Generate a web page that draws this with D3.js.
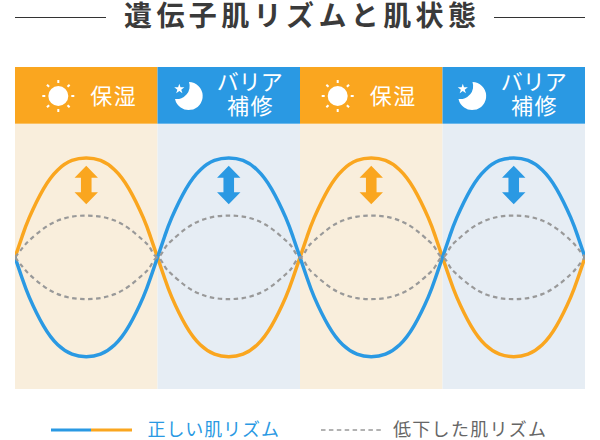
<!DOCTYPE html>
<html>
  <head>
    <meta charset="utf-8">
    <title>遺伝子肌リズムと肌状態</title>
    <script src="https://cdn.jsdelivr.net/npm/d3@7"></script>
    <style>
      html, body { margin: 0; padding: 0; background: #fff; }
      svg { display: block; }
      text { font-family: "Noto Sans CJK JP", "Noto Sans", sans-serif; }
    </style>
  </head>
  <body>
    <script>
      var w = 600;
      var h = 440;

      var titleText = "遺伝子肌リズムと肌状態";
      var panelKinds = ["day", "night", "day", "night"];
      var panelLines = [["保湿"], ["バリア", "補修"], ["保湿"], ["バリア", "補修"]];
      var legendLabels = ["正しい肌リズム", "低下した肌リズム"];

      // position inside one half period
      var halfX = [0, .05, .1, .2, .3, .4, .5, .6, .7, .8, .9, .95, 1];

      var orangeValues = [
        0, 21, 40, 69, 88, 97.5, 100, 97.5, 88, 69, 40, 21, 0,
        -21, -40, -69, -88, -97.5, -100, -97.5, -88, -69, -40, -21, 0,
        21, 40, 69, 88, 97.5, 100, 97.5, 88, 69, 40, 21, 0,
        -21, -40, -69, -88, -97.5, -100, -97.5, -88, -69, -40, -21, 0
      ];
      var blueValues = [
        0, -21, -40, -69, -88, -97.5, -100, -97.5, -88, -69, -40, -21, 0,
        21, 40, 69, 88, 97.5, 100, 97.5, 88, 69, 40, 21, 0,
        -21, -40, -69, -88, -97.5, -100, -97.5, -88, -69, -40, -21, 0,
        21, 40, 69, 88, 97.5, 100, 97.5, 88, 69, 40, 21, 0
      ];
      var lowUpperValues = [
        0, 9, 17, 29, 37, 41, 42, 41, 37, 29, 17, 9, 0,
        9, 17, 29, 37, 41, 42, 41, 37, 29, 17, 9, 0,
        9, 17, 29, 37, 41, 42, 41, 37, 29, 17, 9, 0,
        9, 17, 29, 37, 41, 42, 41, 37, 29, 17, 9, 0
      ];
      var lowLowerValues = [
        0, -9, -17, -29, -37, -41, -42, -41, -37, -29, -17, -9, 0,
        -9, -17, -29, -37, -41, -42, -41, -37, -29, -17, -9, 0,
        -9, -17, -29, -37, -41, -42, -41, -37, -29, -17, -9, 0,
        -9, -17, -29, -37, -41, -42, -41, -37, -29, -17, -9, 0
      ];

      // x values for the whole run: first half has the 0, the rest share it
      var rhythmX = halfX.slice();
      d3.range(1, panelKinds.length).forEach(function(p) {
        halfX.slice(1).forEach(function(t) { rhythmX.push(p + t); });
      });

      var orange = "#faa61f";
      var blue = "#2a99e3";
      var grey = "#999999";

      var xBand = d3.scaleBand().domain(d3.range(panelKinds.length)).range([15, 585]);
      var xScale = d3.scaleLinear().domain([0, panelKinds.length]).range([15, 585]);
      var yScale = d3.scaleLinear().domain([-100, 100]).range([356.7, 158]);

      var svg = d3.select("body").append("svg")
        .attr("width", w)
        .attr("height", h);

      svg.append("defs").append("clipPath").attr("id", "plotClip")
        .append("rect")
        .attr("x", 15).attr("y", 124)
        .attr("width", 570).attr("height", 265);

      // タイトル
      svg.append("text")
        .attr("x", 302.2).attr("y", 26)
        .attr("text-anchor", "middle")
        .attr("font-size", 28)
        .attr("font-weight", 700)
        .attr("letter-spacing", 4.4)
        .attr("fill", "#3a3a3a")
        .text(titleText);
      svg.selectAll(".titleRule")
        .data([[15, 106], [494, 585]])
        .enter().append("line")
        .attr("class", "titleRule")
        .attr("x1", function(d) { return d[0]; })
        .attr("x2", function(d) { return d[1]; })
        .attr("y1", 17.5).attr("y2", 17.5)
        .attr("stroke", "#333").attr("stroke-width", 1);

      // 背景とヘッダー
      svg.selectAll(".panelBody")
        .data(panelKinds)
        .enter().append("rect")
        .attr("class", "panelBody")
        .attr("x", function(d, i) { return xBand(i); })
        .attr("y", 124)
        .attr("width", xBand.bandwidth())
        .attr("height", 265)
        .attr("fill", function(d) { return d == "day" ? "#f9eedc" : "#e6edf4"; });
      svg.selectAll(".panelHead")
        .data(panelKinds)
        .enter().append("rect")
        .attr("class", "panelHead")
        .attr("x", function(d, i) { return xBand(i); })
        .attr("y", 67)
        .attr("width", xBand.bandwidth())
        .attr("height", 56.7)
        .attr("fill", function(d) { return d == "day" ? orange : blue; });

      // ヘッダーの文字
      var labelX = [113, 249.7, 392.5, 533.8];
      panelLines.forEach(function(lines, i) {
        var label = svg.append("text")
          .attr("text-anchor", "middle")
          .attr("font-size", 22)
          .attr("font-weight", 400)
          .attr("fill", "#fff");
        lines.forEach(function(line, j) {
          label.append("tspan")
            .attr("x", labelX[i] + (line.length == 2 ? .75 : 0))
            .attr("y", lines.length == 1 ? 104 : (j == 0 ? 90 : 114))
            .attr("letter-spacing", line.length == 2 ? 1.5 : 0)
            .text(line);
        });
      });

      // アイコン
      var iconX = [58.3, 189, 337.7, 472.5];
      panelKinds.forEach(function(kind, i) {
        var g = svg.append("g")
          .attr("transform", "translate(" + iconX[i] + ",96)")
          .attr("fill", "#fff");
        if (kind == "day") {
          g.append("circle").attr("r", 10);
          g.selectAll("line")
            .data(d3.range(8))
            .enter().append("line")
            .attr("x1", 13).attr("x2", 16)
            .attr("stroke", "#fff")
            .attr("stroke-width", 2)
            .attr("transform", function(d) { return "rotate(" + d * 45 + ")"; });
        } else {
          g.append("path").attr("d", "M0,-14A14,14 0 1 1 -14,3A13,13 0 0 0 0,-14Z");
          g.append("path")
            .attr("transform", "translate(-9.7,-7)")
            .attr("d", d3.symbol().type(d3.symbolStar).size(32));
        }
      });

      // 上下矢印
      var arrowPath = "M0,-19.3L11.7,-7.3H5.3V7.3H11.7L0,19.3L-11.7,7.3H-5.3V-7.3H-11.7Z";
      svg.selectAll(".arrow")
        .data(panelKinds)
        .enter().append("path")
        .attr("class", "arrow")
        .attr("transform", function(d, i) {
          return "translate(" + (xBand(i) + xBand.bandwidth() / 2) + ",185)";
        })
        .attr("d", arrowPath)
        .attr("fill", function(d) { return d == "day" ? orange : blue; });

      // 曲線
      var line = d3.line()
        .x(function(d, i) { return xScale(rhythmX[i]); })
        .y(function(d) { return yScale(d); })
        .curve(d3.curveNatural);
      var curves = svg.append("g").attr("clip-path", "url(#plotClip)");
      [
        { values: orangeValues, color: orange },
        { values: blueValues, color: blue }
      ].forEach(function(s) {
        curves.append("path")
          .attr("d", line(s.values))
          .attr("fill", "none")
          .attr("stroke", s.color)
          .attr("stroke-width", 3.5);
      });
      [lowUpperValues, lowLowerValues].forEach(function(values) {
        curves.append("path")
          .attr("d", line(values))
          .attr("fill", "none")
          .attr("stroke", grey)
          .attr("stroke-width", 2.2)
          .attr("stroke-dasharray", "4.5,3.5");
      });

      // 凡例
      svg.append("line")
        .attr("x1", 51).attr("x2", 91).attr("y1", 430).attr("y2", 430)
        .attr("stroke", blue).attr("stroke-width", 3);
      svg.append("line")
        .attr("x1", 91).attr("x2", 132).attr("y1", 430).attr("y2", 430)
        .attr("stroke", orange).attr("stroke-width", 3);
      svg.append("line")
        .attr("x1", 321).attr("x2", 382).attr("y1", 430).attr("y2", 430)
        .attr("stroke", grey).attr("stroke-width", 1.5)
        .attr("stroke-dasharray", "4.5,3.4");
      svg.append("text")
        .attr("x", 147.5).attr("y", 436)
        .attr("font-size", 18)
        .attr("letter-spacing", .9)
        .attr("fill", blue)
        .text(legendLabels[0]);
      svg.append("text")
        .attr("x", 393).attr("y", 436)
        .attr("font-size", 18)
        .attr("letter-spacing", 1.3)
        .attr("fill", "#666")
        .text(legendLabels[1]);
    </script>
  </body>
</html>
